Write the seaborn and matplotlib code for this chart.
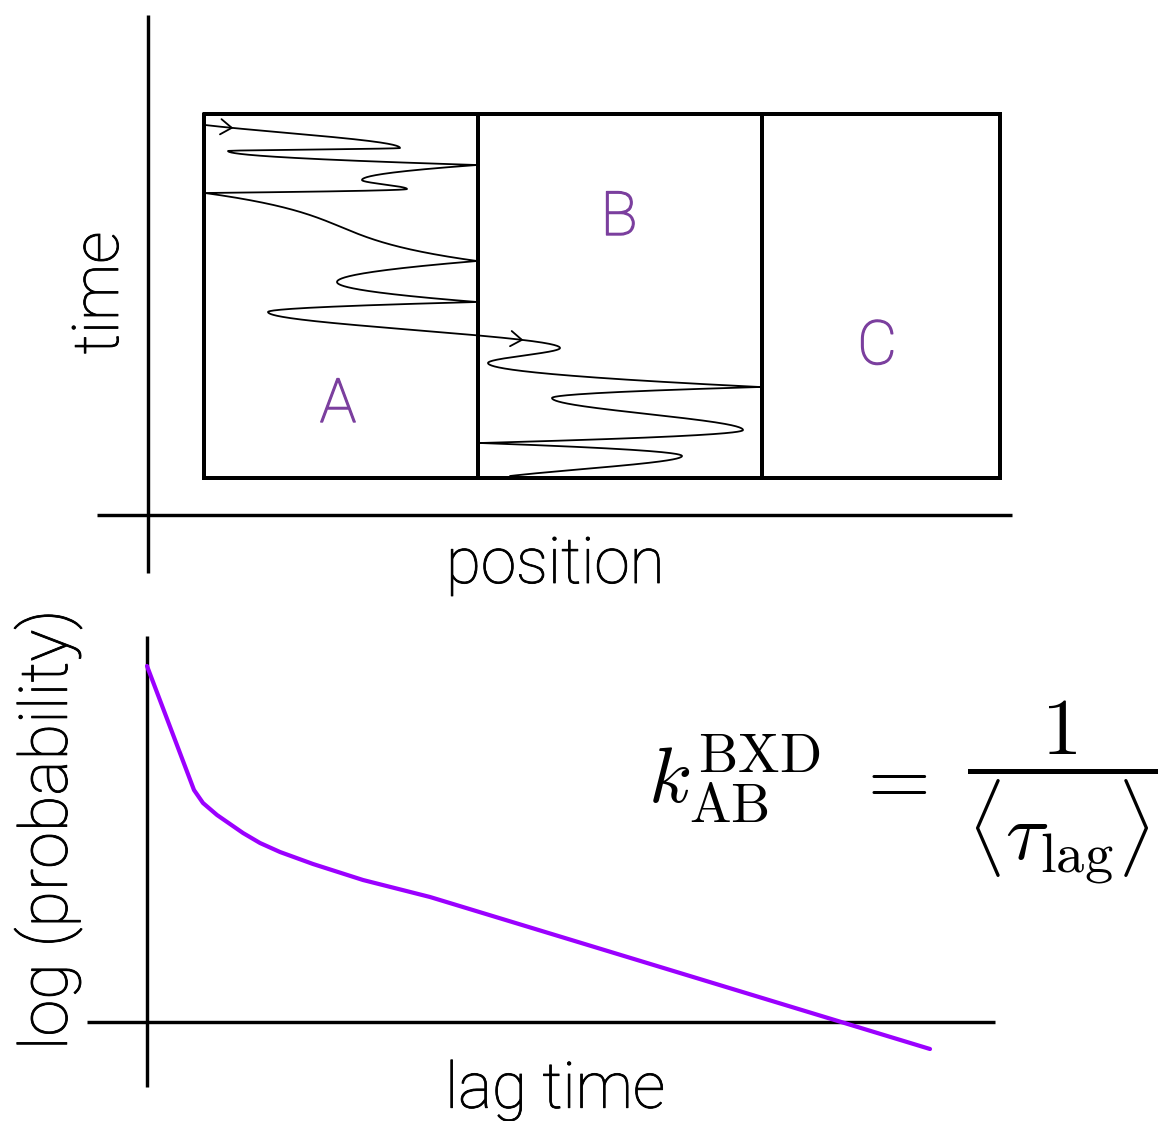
import numpy as np
import matplotlib
matplotlib.use("Agg")
import matplotlib.pyplot as plt
import matplotlib.patheffects as pe
import seaborn as sns

# ---------------- data (schematic, pixel-space coordinates) ----------------
# top panel: position / time diagram with three regions
box_x = [204, 1000]          # left / right edge of the region box
box_y = [114, 478]           # top / bottom edge of the region box
wall_x = [478, 762]          # boundaries A|B and B|C
region_labels = ["A", "B", "C"]
region_x = [338, 619, 877]
region_y = [405, 218, 347]

# trajectory turning points (position, time) and the kind of turn
traj_x = [205, 400, 228, 477, 362, 407, 205, 477, 337, 477, 268, 560, 488,
          760, 552, 743, 480, 682, 510]
traj_y = [125, 148, 151, 165, 180, 189, 193, 261, 282, 302, 312, 348, 363,
          387, 398, 430, 443, 456, 476]
traj_kind = ["start", "tip", "tip", "wall", "tip", "tip", "wall", "wall", "tip",
             "wall", "tip", "tip", "tip", "wall", "tip", "tip", "wall", "tip",
             "end"]
arrow_time = [128, 340]

# bottom panel: log(probability) vs lag time
lag_x = [147, 194, 203, 217, 230, 243, 260, 280, 313, 363, 430, 930]
logp_y = [666, 790, 803, 815, 824, 833, 843, 852, 864, 880, 897, 1049]

# axes of the two panels
top_axis_v = (148, 15, 573)
top_axis_h = (515, 97, 1012)
bot_axis_v = (147, 636, 1087)
bot_axis_h = (1022, 87, 995)

W, H = 1165, 1121
purple_text = "#7b3f9e"
purple_line = "#9b00ff"


def trajectory(xs, ys, kinds, n=200):
    """Hermite curve x(t) between turning points; tips are smooth, walls reflect."""
    out_x, out_y = [], []
    for i in range(len(xs) - 1):
        x0, x1, y0, y1 = xs[i], xs[i + 1], ys[i], ys[i + 1]
        dx = x1 - x0

        def slope(kind):
            if kind == "tip":
                return 0.0
            if kind == "wall":
                return 1.8 * dx
            return dx
        m0, m1 = slope(kinds[i]), slope(kinds[i + 1])
        s = np.linspace(0, 1, n)
        h00 = 2 * s**3 - 3 * s**2 + 1
        h10 = s**3 - 2 * s**2 + s
        h01 = -2 * s**3 + 3 * s**2
        h11 = s**3 - s**2
        x = h00 * x0 + h10 * m0 + h01 * x1 + h11 * m1
        y = y0 + (y1 - y0) * s
        if i > 0:
            x, y = x[1:], y[1:]
        out_x.append(x)
        out_y.append(y)
    return np.concatenate(out_x), np.concatenate(out_y)


sns.set_theme(style="white")
plt.rcParams["font.family"] = ["Roboto", "DejaVu Sans"]
plt.rcParams["mathtext.fontset"] = "cm"
plt.rcParams["text.color"] = "black"

fig = plt.figure(figsize=(W / 100, H / 100), dpi=100)
ax = fig.add_axes([0, 0, 1, 1])
ax.set_xlim(0, W)
ax.set_ylim(H, 0)
ax.axis("off")

lw_axis = 3.4 * 72 / 100
lw_box = 4.0 * 72 / 100

# panel axes
ax.plot([top_axis_v[0]] * 2, top_axis_v[1:], color="black", lw=lw_axis, solid_capstyle="butt")
ax.plot(top_axis_h[1:], [top_axis_h[0]] * 2, color="black", lw=lw_axis, solid_capstyle="butt")
ax.plot([bot_axis_v[0]] * 2, bot_axis_v[1:], color="black", lw=lw_axis, solid_capstyle="butt")
ax.plot(bot_axis_h[1:], [bot_axis_h[0]] * 2, color="black", lw=lw_axis, solid_capstyle="butt")

# region box
bx = [box_x[0], box_x[1], box_x[1], box_x[0], box_x[0]]
by = [box_y[0], box_y[0], box_y[1], box_y[1], box_y[0]]
ax.plot(bx, by, color="black", lw=lw_box, solid_joinstyle="miter")
for wx in wall_x:
    ax.plot([wx, wx], box_y, color="black", lw=lw_box, solid_capstyle="butt")

# trajectory
tx, ty = trajectory(traj_x, traj_y, traj_kind)
sns.lineplot(x=tx, y=ty, sort=False, estimator=None, color="black",
             lw=1.8 * 72 / 100, ax=ax)
for at in arrow_time:
    k = int(np.argmin(np.abs(ty - at)))
    d = np.array([tx[k] - tx[k - 8], ty[k] - ty[k - 8]])
    d = d / np.hypot(*d)
    ax.annotate("", xy=(tx[k], ty[k]), xytext=(tx[k] - 3 * d[0], ty[k] - 3 * d[1]),
                arrowprops=dict(arrowstyle="->,head_length=0.8,head_width=0.55",
                                color="black", lw=1.3, mutation_scale=10,
                                shrinkA=0, shrinkB=0))

for lab, x, y in zip(region_labels, region_x, region_y):
    ax.text(x, y, lab, color=purple_text, fontsize=44, ha="center", va="center",
            fontweight="light",
            path_effects=[pe.withStroke(linewidth=1.0, foreground=purple_text)])

# decay curve
sns.lineplot(x=lag_x, y=logp_y, sort=False, estimator=None, color=purple_line,
             lw=4.2 * 72 / 100, ax=ax)

# axis labels
lab_kw = dict(fontweight="light", color="black",
              path_effects=[pe.withStroke(linewidth=0.6, foreground="black")])
ax.text(555, 565, "position", ha="center", va="center", fontsize=46, **lab_kw)
ax.text(100, 293, "time", ha="center", va="center", rotation=90, fontsize=46, **lab_kw)
ax.text(48, 830, "log (probability)", ha="center", va="center", rotation=90,
        fontsize=48, **lab_kw)
ax.text(555, 1090, "lag time", ha="center", va="center", fontsize=46, **lab_kw)

# rate expression
ax.text(648, 779, r"$k_{\mathrm{AB}}^{\mathrm{BXD}}$", fontsize=57, ha="left", va="center")
ax.text(890, 781, r"$=$", fontsize=58, ha="center", va="center")
ax.text(1062, 792, r"$\dfrac{1}{\langle \tau_{\mathrm{lag}} \rangle}$", fontsize=58,
        ha="center", va="center")

fig.savefig("out.png", dpi=100)
